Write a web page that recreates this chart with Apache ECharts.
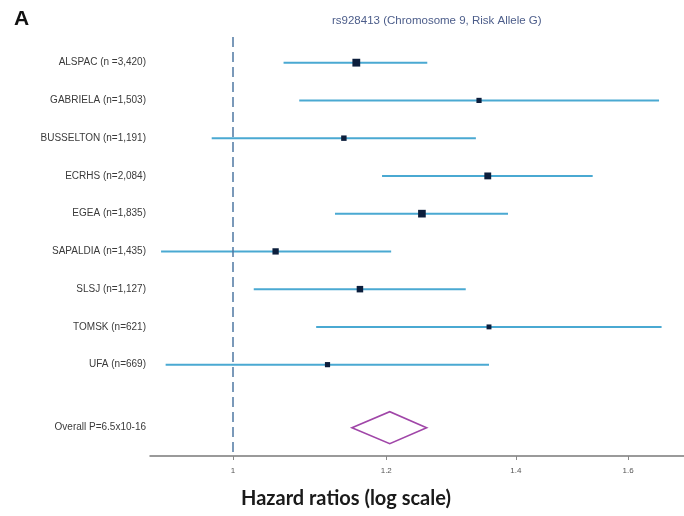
<!DOCTYPE html>
<html>
<head>
<meta charset="utf-8">
<script src="https://cdn.jsdelivr.net/npm/echarts@6/dist/echarts.min.js"></script>
<style>
  html, body { margin: 0; padding: 0; background: #fff; }
  #main { width: 684px; height: 516px; }
</style>
</head>
<body>
<div id="main"></div>
<script>
// study labels (top to bottom)
var studies = [
  "ALSPAC (n =3,420)", "GABRIELA (n=1,503)", "BUSSELTON (n=1,191)",
  "ECRHS (n=2,084)", "EGEA (n=1,835)", "SAPALDIA (n=1,435)",
  "SLSJ (n=1,127)", "TOMSK (n=621)", "UFA (n=669)"
];
// hazard ratio + 95% CI
var hr    = [1.158, 1.340, 1.141, 1.354, 1.252, 1.052, 1.163, 1.356, 1.119];
var lower = [1.062, 1.082, 0.975, 1.194, 1.129, 0.918, 1.025, 1.104, 0.923];
var upper = [1.260, 1.660, 1.335, 1.534, 1.387, 1.207, 1.319, 1.665, 1.356];
// study weight (%), drives the square size
var weights = [20, 6, 7, 14, 19, 11, 12, 5, 6];
// pooled estimate
var overallLabel = "Overall P=6.5x10-16";
var overall = [1.152, 1.205, 1.259]; // lower, estimate, upper
var xTicks = [1, 1.2, 1.4, 1.6];

var overallRow = 10.67;
var rowPos = studies.map(function (s, i) { return i + 1; });
var labelPos = rowPos.concat([overallRow]);
var labelText = studies.concat([overallLabel]);

var ciData = studies.map(function (s, i) { return [lower[i], upper[i], rowPos[i]]; });
var pointData = studies.map(function (s, i) { return [hr[i], rowPos[i], weights[i]]; });

var chart = echarts.init(document.getElementById("main"));
var option = {
  animation: false,
  title: [
    {
      text: "A", left: 9, top: 4,
      textStyle: { fontSize: 21, fontWeight: "bold", color: "#111", fontFamily: "Liberation Sans" }
    },
    {
      text: "rs928413 (Chromosome 9, Risk Allele G)", left: 327, top: 10,
      textStyle: { fontSize: 11.5, fontWeight: "normal", color: "#4c5d8a", fontFamily: "Liberation Sans" }
    },
    {
      text: "Hazard ratios (log scale)", left: 236, top: 484,
      textStyle: { fontSize: 20, fontWeight: "bold", color: "#1a1a1a", fontFamily: "Lato" }
    }
  ],
  grid: { left: 150, right: 0, top: 37, bottom: 60 },
  xAxis: {
    type: "log",
    min: 0.906,
    max: 1.71,
    axisLine: { lineStyle: { color: "#7a7a7a", width: 1.5 } },
    axisTick: { show: true, length: 4, customValues: xTicks, lineStyle: { color: "#888" } },
    axisLabel: {
      customValues: xTicks, fontSize: 8, color: "#555", margin: 11,
      fontFamily: "Liberation Sans",
      formatter: function (v) { return String(Math.round(v * 10) / 10); }
    },
    splitLine: { show: false }
  },
  yAxis: {
    type: "value",
    inverse: true,
    min: 0.32,
    max: 11.42,
    axisLine: { show: false },
    axisTick: { show: false },
    splitLine: { show: false },
    axisLabel: {
      customValues: labelPos, fontSize: 10, color: "#3a3a3a", margin: 4,
      fontFamily: "Liberation Sans",
      formatter: function (v) {
        for (var i = 0; i < labelPos.length; i++) {
          if (Math.abs(labelPos[i] - v) < 0.01) return labelText[i];
        }
        return "";
      }
    }
  },
  series: [
    {
      // confidence intervals
      type: "custom",
      data: ciData,
      encode: { x: [0, 1], y: 2 },
      renderItem: function (params, api) {
        var a = api.coord([api.value(0), api.value(2)]);
        var b = api.coord([api.value(1), api.value(2)]);
        return {
          type: "line",
          shape: { x1: a[0], y1: a[1], x2: b[0], y2: b[1] },
          style: { stroke: "#4aa9d2", lineWidth: 2 }
        };
      },
      z: 2
    },
    {
      // point estimates
      type: "scatter",
      data: pointData,
      symbol: "rect",
      symbolSize: function (d) { return 2 + Math.sqrt(d[2]) * 1.3; },
      itemStyle: { color: "#0c1e3c", opacity: 1 },
      z: 4,
      markLine: {
        silent: true,
        symbol: "none",
        label: { show: false },
        lineStyle: { color: "#4f78a3", type: [10, 5], width: 1.5 },
        data: [{ xAxis: 1 }]
      }
    },
    {
      // pooled diamond
      type: "custom",
      data: [[overall[0], overall[1], overall[2], overallRow]],
      encode: { x: [0, 2], y: 3 },
      renderItem: function (params, api) {
        var y = api.value(3);
        var l = api.coord([api.value(0), y]);
        var m = api.coord([api.value(1), y]);
        var r = api.coord([api.value(2), y]);
        var h = 16;
        return {
          type: "polygon",
          shape: { points: [[l[0], l[1]], [m[0], m[1] - h], [r[0], r[1]], [m[0], m[1] + h]] },
          style: { fill: "#fff", stroke: "#a046a8", lineWidth: 1.6 }
        };
      },
      z: 3
    }
  ]
};
chart.setOption(option);
</script>
</body>
</html>
